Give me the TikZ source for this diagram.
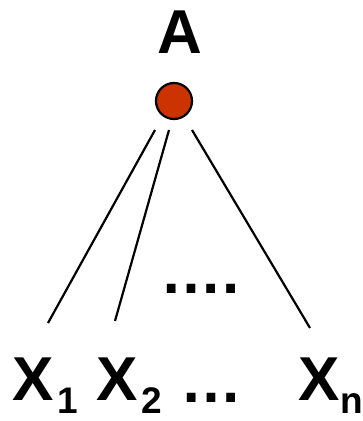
\documentclass[tikz,border=0pt]{standalone}
\usepackage{fontspec}
\setmainfont{Liberation Sans}
\definecolor{nodered}{HTML}{CC3300}
\begin{document}
\begin{tikzpicture}[x=1pt,y=-1pt,
  lbl/.style={inner sep=0pt,font=\fontsize{62}{62}\selectfont\bfseries},
  edge/.style={line width=2.2pt},
  dot/.style={circle,draw=black,line width=2.2pt,fill=nodered,minimum size=36pt,inner sep=0pt}]
\useasboundingbox (0,0) rectangle (363,421);
\node[lbl,anchor=base] (A) at (179.5,53) {A};
\node[dot] (c) at (174,101) {};
\newcommand{\sbx}[1]{\raisebox{-13pt}{\fontsize{37}{37}\selectfont\bfseries #1}}
\node[lbl,anchor=base west] (x1) at (12,400) {X\hspace{4pt}\sbx{1}};
\node[lbl,anchor=base west] (x2) at (96,400) {X\hspace{4pt}\sbx{2}};
\node[lbl,anchor=base west] (xn) at (298,400) {X\hspace{1pt}\sbx{n}};
\node[lbl,anchor=base west] (d1) at (180,402) {…};
\node[lbl,anchor=base west] (d2) at (160,293) {….};
\coordinate (t1) at (155,130);
\coordinate (t2) at (169,130);
\coordinate (t3) at (192,130);
\coordinate (b1) at (48,323);
\coordinate (b2) at (115,321);
\coordinate (b3) at (310,328);
\draw[edge] (t1) -- (b1);
\draw[edge] (t2) -- (b2);
\draw[edge] (t3) -- (b3);
\end{tikzpicture}
\end{document}
